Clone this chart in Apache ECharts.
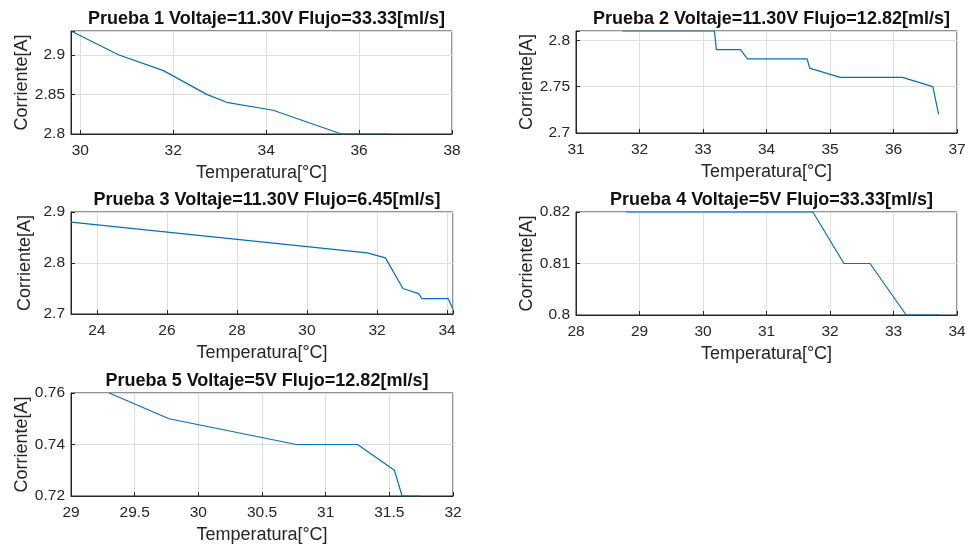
<!DOCTYPE html>
<html>
<head>
<meta charset="utf-8">
<script src="https://cdn.jsdelivr.net/npm/echarts@6/dist/echarts.min.js"></script>
<style>
  html, body { margin: 0; padding: 0; background: #fff; }
  #chart { width: 970px; height: 549px; }
</style>
</head>
<body>
<div id="chart"></div>
<script>
// datos
const titles = [
  'Prueba 1 Voltaje=11.30V Flujo=33.33[ml/s]',
  'Prueba 2 Voltaje=11.30V Flujo=12.82[ml/s]',
  'Prueba 3 Voltaje=11.30V Flujo=6.45[ml/s]',
  'Prueba 4 Voltaje=5V Flujo=33.33[ml/s]',
  'Prueba 5 Voltaje=5V Flujo=12.82[ml/s]'
];

const temp1 = [29.8, 30.82, 31.79, 32.72, 33.15, 34.15, 35.62, 36.62];
const corr1 = [2.93, 2.90, 2.88, 2.85, 2.84, 2.83, 2.80, 2.80];

const temp2 = [31.73, 33.18, 33.21, 33.59, 33.70, 34.64, 34.68, 35.16, 36.14, 36.62, 36.71];
const corr2 = [2.81, 2.81, 2.79, 2.79, 2.78, 2.78, 2.77, 2.76, 2.76, 2.75, 2.72];

const temp3 = [23.26, 31.72, 32.24, 32.74, 33.19, 33.28, 34.03, 34.17];
const corr3 = [2.88, 2.82, 2.81, 2.75, 2.74, 2.73, 2.73, 2.71];

const temp4 = [28.79, 31.73, 32.22, 32.63, 33.20, 33.71];
const corr4 = [0.82, 0.82, 0.81, 0.81, 0.80, 0.80];

const temp5 = [29.30, 29.77, 30.77, 31.25, 31.54, 31.60, 31.74];
const corr5 = [0.76, 0.75, 0.74, 0.74, 0.73, 0.72, 0.72];

const xTicks1 = [30, 32, 34, 36, 38];
const xTicks2 = [31, 32, 33, 34, 35, 36, 37];
const xTicks3 = [24, 26, 28, 30, 32, 34];
const xTicks4 = [28, 29, 30, 31, 32, 33, 34];
const xTicks5 = [29, 29.5, 30, 30.5, 31, 31.5, 32];

const yTicks1 = [2.8, 2.85, 2.9];
const yTicks2 = [2.7, 2.75, 2.8];
const yTicks3 = [2.7, 2.8, 2.9];
const yTicks4 = [0.8, 0.81, 0.82];
const yTicks5 = [0.72, 0.74, 0.76];

const xRange = [[29.8, 38], [31, 37], [23.26, 34.17], [28, 34], [29, 32]];
const yRange = [[2.8, 2.93], [2.7, 2.81], [2.7, 2.9], [0.8, 0.82], [0.72, 0.76]];

const temps = [temp1, temp2, temp3, temp4, temp5];
const corrs = [corr1, corr2, corr3, corr4, corr5];
const xTicks = [xTicks1, xTicks2, xTicks3, xTicks4, xTicks5];
const yTicks = [yTicks1, yTicks2, yTicks3, yTicks4, yTicks5];

const font = "'Liberation Sans', Arial, sans-serif";
const axisColor = '#262626';

const boxes = [
  { left: 71, top: 31, width: 381, height: 103 },
  { left: 576, top: 31, width: 381, height: 102 },
  { left: 71, top: 212, width: 382, height: 102 },
  { left: 576, top: 212, width: 381, height: 103 },
  { left: 71, top: 393, width: 382, height: 103 }
];

function onTick(list) {
  return function (v) {
    for (const t of list) {
      if (Math.abs(t - v) < 1e-6) return String(t);
    }
    return '';
  };
}

function makeAxis(i, isX) {
  const r = isX ? xRange[i] : yRange[i];
  const ticks = isX ? xTicks[i] : yTicks[i];
  return {
    type: 'value',
    gridIndex: i,
    min: r[0],
    max: r[1],
    splitNumber: ticks.length - 1,
    name: isX ? 'Temperatura[°C]' : 'Corriente[A]',
    nameLocation: 'middle',
    nameGap: isX ? 30 : 37,
    nameTextStyle: { fontFamily: font, fontSize: 18, color: axisColor },
    axisLine: { show: true, lineStyle: { color: axisColor, width: 1 } },
    axisTick: { show: true, inside: true, length: 4, lineStyle: { color: axisColor } },
    axisLabel: {
      fontFamily: font, fontSize: 15.5, color: axisColor,
      margin: isX ? 9 : 6,
      formatter: onTick(ticks)
    },
    splitLine: { show: true, lineStyle: { color: '#dedede', width: 1 } }
  };
}

const grids = [], xAxes = [], yAxes = [], series = [], titleOpts = [];
for (let i = 0; i < 5; i++) {
  const b = boxes[i];
  grids.push(Object.assign({ show: true, borderColor: axisColor, borderWidth: 1, containLabel: false }, b));
  xAxes.push(makeAxis(i, true));
  yAxes.push(makeAxis(i, false));
  series.push({
    type: 'line',
    xAxisIndex: i,
    yAxisIndex: i,
    showSymbol: false,
    silent: true,
    lineStyle: { color: '#0072BD', width: 1.2 },
    data: temps[i].map((t, k) => [t, corrs[i][k]])
  });
  titleOpts.push({
    text: titles[i],
    left: b.left + b.width / 2,
    top: b.top - 26,
    textAlign: 'center',
    textStyle: { fontFamily: font, fontSize: 18, fontWeight: 'bold', color: '#111' }
  });
}

const chart = echarts.init(document.getElementById('chart'));
chart.setOption({
  backgroundColor: '#fff',
  animation: false,
  title: titleOpts,
  grid: grids,
  xAxis: xAxes,
  yAxis: yAxes,
  series: series
});
</script>
</body>
</html>
